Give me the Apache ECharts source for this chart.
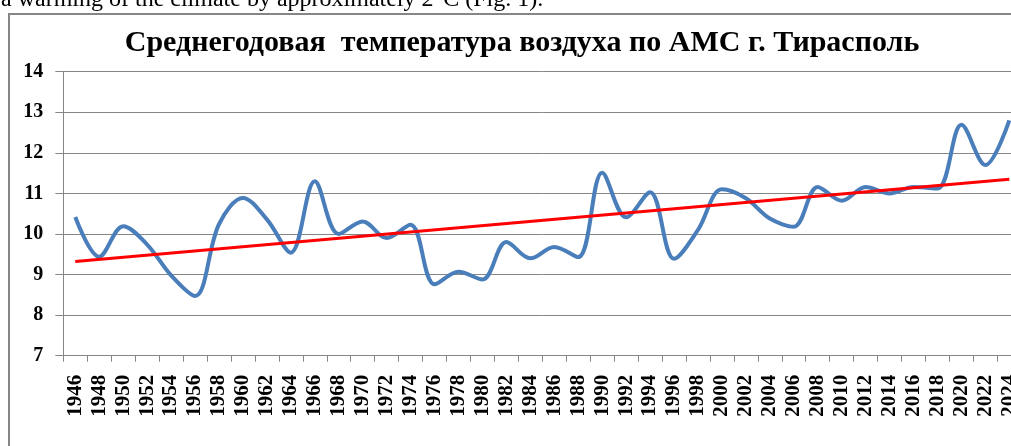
<!DOCTYPE html>
<html>
<head>
<meta charset="utf-8">
<script src="https://cdn.jsdelivr.net/npm/echarts@6/dist/echarts.min.js"></script>
<style>
html,body{margin:0;padding:0;background:#fff;overflow:hidden;width:1011px;height:446px;}
#chart{width:1022px;height:446px;}
</style>
</head>
<body>
<div id="chart"></div>
<script>
// Categories (every 2 years)
const years = ['1946','1948','1950','1952','1954','1956','1958','1960','1962','1964',
               '1966','1968','1970','1972','1974','1976','1978','1980','1982','1984',
               '1986','1988','1990','1992','1994','1996','1998','2000','2002','2004',
               '2006','2008','2010','2012','2014','2016','2018','2020','2022','2024'];
// Mean annual air temperature, °C
const temps = [10.42, 9.44, 10.19, 9.74, 8.98, 8.47, 10.24, 10.89, 10.36, 9.54,
               11.30, 10.00, 10.31, 9.90, 10.23, 8.76, 9.07, 8.88, 9.80, 9.40,
               9.68, 9.43, 11.51, 10.41, 11.03, 9.39, 10.10, 11.10, 10.88, 10.38,
               10.18, 11.16, 10.82, 11.16, 11.00, 11.16, 11.12, 12.69, 11.70, 12.80];
// Linear trend endpoints
const trendYears = ['1946', '2024'];
const trendValues = [9.32, 11.35];
// Y-axis ticks
const yTicks = [7, 8, 9, 10, 11, 12, 13, 14];

const titleText = 'Среднегодовая  температура воздуха по АМС г. Тирасполь';
const captionText = 'a warming of the climate by approximately 2°C (Fig. 1).';

const trendData = years.map(y => {
  const i = trendYears.indexOf(y);
  return i >= 0 ? trendValues[i] : null;
});

const serif = 'Liberation Serif';
const chart = echarts.init(document.getElementById('chart'), null, {renderer: 'canvas'});
chart.setOption({
  animation: false,
  backgroundColor: '#ffffff',
  graphic: [
    {type: 'rect', shape: {x: 9, y: 14, width: 1100, height: 500},
     style: {fill: 'none', stroke: '#868686', lineWidth: 2}, z: 0},
    {type: 'text', x: 1, y: 12,
     style: {text: captionText, fontFamily: serif, fontSize: 24, fill: '#000',
             verticalAlign: 'bottom'}}
  ],
  title: {
    text: titleText,
    left: 517, top: 23, textAlign: 'center',
    textStyle: {fontFamily: serif, fontWeight: 'bold', fontSize: 30, color: '#000'}
  },
  grid: {left: 63.3, right: 0.7, top: 71.7, bottom: 90.3, containLabel: false},
  xAxis: {
    type: 'category',
    data: years,
    boundaryGap: true,
    axisLine: {show: true, lineStyle: {color: '#868686', width: 1}},
    axisTick: {show: true, interval: 0, length: 6, lineStyle: {color: '#868686'}},
    axisLabel: {interval: 0, rotate: 90, margin: 19, color: '#000',
                fontFamily: serif, fontWeight: 'bold', fontSize: 21},
    splitLine: {show: false}
  },
  yAxis: {
    type: 'value',
    min: yTicks[0], max: yTicks[yTicks.length - 1], interval: 1,
    axisLine: {show: true, lineStyle: {color: '#868686', width: 1}},
    axisTick: {show: true, length: 8, lineStyle: {color: '#868686'}},
    axisLabel: {margin: 20, color: '#000', fontFamily: serif, fontWeight: 'bold', fontSize: 20},
    splitLine: {show: true, lineStyle: {color: '#868686', width: 1}}
  },
  series: [
    {type: 'line', data: temps, smooth: 0.35, symbol: 'none',
     lineStyle: {color: '#4A7EBB', width: 4}, z: 2},
    {type: 'line', data: trendData, connectNulls: true, symbol: 'none',
     lineStyle: {color: '#FF0000', width: 3}, z: 3}
  ]
});
</script>
</body>
</html>
